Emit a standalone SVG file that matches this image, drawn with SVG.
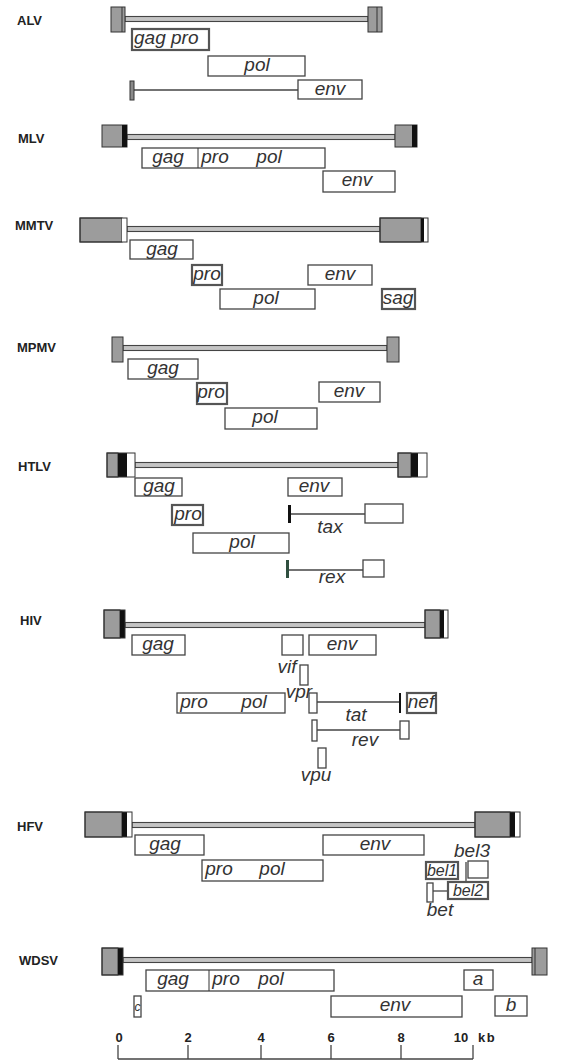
<svg xmlns="http://www.w3.org/2000/svg" width="571" height="1061" viewBox="0 0 571 1061">
<style>
.ltr{fill:#9c9c9c;stroke:#333;stroke-width:1}
.blk{fill:#111}
.wht{fill:#fff}
.ol{fill:none;stroke:#333;stroke-width:1}
.gen{fill:#fff;stroke:#444;stroke-width:1.3}
.genD{fill:#fff;stroke:#555;stroke-width:2.2}
.tk{fill:#8a8a8a;stroke:#333;stroke-width:1}
.dl{fill:#c4c4c4;stroke:#444;stroke-width:1.1}
.ln{stroke:#444;stroke-width:1.3;fill:none}
.lbl{font-family:"Liberation Sans",Arial,sans-serif;font-weight:bold;font-size:13px;fill:#222}
.g{font-family:"Liberation Sans",Arial,sans-serif;font-style:italic;font-size:19px;fill:#333}
.s{font-size:16px}
.c{text-anchor:middle}
.sc{font-family:"Liberation Sans",Arial,sans-serif;font-weight:bold;font-size:13px;fill:#222}
</style>
<rect width="571" height="1061" fill="#fff"/>

<g id="connectors">
<line class="ln" x1="134" y1="90" x2="298" y2="90"/>
<line class="ln" x1="291" y1="514" x2="365" y2="514"/>
<line class="ln" x1="289" y1="570" x2="363" y2="570"/>
<line class="ln" x1="317" y1="702" x2="400" y2="702"/>
<line class="ln" x1="317" y1="730" x2="400" y2="730"/>
<line class="ln" x1="466" y1="862" x2="466" y2="882"/>
<line class="ln" x1="433" y1="891" x2="448" y2="891"/>
</g>

<!-- ALV -->
<g id="ALV">
<text class="lbl" x="17" y="25">ALV</text>
<rect class="dl" x="125" y="16.5" width="243" height="5"/>
<rect class="ltr" x="111" y="7" width="14" height="25"/><line class="ol" x1="122" y1="7" x2="122" y2="32"/>
<rect class="ltr" x="368" y="7" width="14" height="25"/><line class="ol" x1="377" y1="7" x2="377" y2="32"/>
</g>
<g id="ALV-gagpro"><rect class="genD" x="132" y="29" width="77" height="21"/><text class="g" x="134" y="44">gag</text><text class="g" x="171" y="44">pro</text></g>
<g id="ALV-pol"><rect class="gen" x="208" y="56" width="97" height="20"/><text class="g c" x="257" y="71">pol</text></g>
<g id="ALV-env"><rect class="tk" x="130" y="81" width="4" height="19"/><rect class="gen" x="298" y="80" width="64" height="19"/><text class="g c" x="330" y="95">env</text></g>

<!-- MLV -->
<g id="MLV">
<text class="lbl" x="18" y="142.5">MLV</text>
<rect class="dl" x="127" y="134.5" width="268" height="5"/>
<rect class="ltr" x="102" y="125" width="25" height="22"/><rect class="blk" x="122" y="125" width="5" height="22"/>
<rect class="ltr" x="395" y="125" width="22" height="22"/><rect class="blk" x="412" y="125" width="5" height="22"/>
</g>
<g id="MLV-gagpropol"><rect class="gen" x="142" y="148" width="183" height="20"/><line class="ol" x1="198" y1="148" x2="198" y2="168"/><text class="g c" x="168" y="163">gag</text><text class="g c" x="215" y="163">pro</text><text class="g c" x="269" y="163">pol</text></g>
<g id="MLV-env"><rect class="gen" x="323" y="171" width="72" height="21"/><text class="g c" x="357" y="186">env</text></g>

<!-- MMTV -->
<g id="MMTV">
<text class="lbl" x="15" y="229.5">MMTV</text>
<rect class="dl" x="127" y="226.5" width="253" height="5"/>
<rect class="ltr" x="80" y="218" width="42" height="24"/><rect class="wht" x="122" y="218" width="5" height="24"/><rect class="ol" x="80" y="218" width="47" height="24"/>
<rect class="ltr" x="380" y="218" width="41" height="24"/><rect class="blk" x="421" y="218" width="3" height="24"/><rect class="wht" x="424" y="218" width="4" height="24"/><rect class="ol" x="380" y="218" width="48" height="24"/>
</g>
<g id="MMTV-gag"><rect class="gen" x="130" y="240" width="63" height="19"/><text class="g c" x="162" y="255">gag</text></g>
<g id="MMTV-pro"><rect class="genD" x="192" y="265" width="30" height="20"/><text class="g c" x="207" y="280">pro</text></g>
<g id="MMTV-env"><rect class="gen" x="308" y="265" width="64" height="20"/><text class="g c" x="340" y="280">env</text></g>
<g id="MMTV-pol"><rect class="gen" x="220" y="289" width="95" height="20"/><text class="g c" x="266" y="304">pol</text></g>
<g id="MMTV-sag"><rect class="genD" x="382" y="289" width="33" height="20"/><text class="g c" x="398" y="304">sag</text></g>

<!-- MPMV -->
<g id="MPMV">
<text class="lbl" x="17" y="351.5">MPMV</text>
<rect class="dl" x="123" y="345.5" width="264" height="5"/>
<rect class="ltr" x="112" y="337" width="11" height="25"/>
<rect class="ltr" x="387" y="337" width="12" height="25"/>
</g>
<g id="MPMV-gag"><rect class="gen" x="128" y="359" width="70" height="20"/><text class="g c" x="163" y="374">gag</text></g>
<g id="MPMV-pro"><rect class="genD" x="197" y="383" width="30" height="21"/><text class="g c" x="211" y="398">pro</text></g>
<g id="MPMV-env"><rect class="gen" x="319" y="382" width="61" height="20"/><text class="g c" x="349" y="397">env</text></g>
<g id="MPMV-pol"><rect class="gen" x="225" y="408" width="92" height="21"/><text class="g c" x="265" y="423">pol</text></g>

<!-- HTLV -->
<g id="HTLV">
<text class="lbl" x="18" y="470.5">HTLV</text>
<rect class="dl" x="135" y="462.5" width="263" height="5"/>
<rect class="ltr" x="107" y="453" width="11" height="24"/><rect class="blk" x="118" y="453" width="9" height="24"/><rect class="wht" x="127" y="453" width="8" height="24"/><rect class="ol" x="107" y="453" width="28" height="24"/>
<rect class="ltr" x="398" y="453" width="13" height="24"/><rect class="blk" x="411" y="453" width="7" height="24"/><rect class="wht" x="418" y="453" width="9" height="24"/><rect class="ol" x="398" y="453" width="29" height="24"/>
</g>
<g id="HTLV-gag"><rect class="gen" x="135" y="478" width="47" height="18"/><text class="g c" x="159" y="492">gag</text></g>
<g id="HTLV-env"><rect class="gen" x="288" y="478" width="54" height="18"/><text class="g c" x="314" y="492">env</text></g>
<g id="HTLV-pro"><rect class="genD" x="172" y="505" width="31" height="20"/><text class="g c" x="188" y="520">pro</text></g>
<g id="HTLV-tax"><rect class="blk" x="288" y="505" width="3" height="18"/><rect class="gen" x="365" y="504" width="38" height="19"/><text class="g c" x="330" y="533">tax</text></g>
<g id="HTLV-pol"><rect class="gen" x="193" y="533" width="96" height="20"/><text class="g c" x="242" y="548">pol</text></g>
<g id="HTLV-rex"><rect x="286" y="560" width="3" height="18" fill="#2f4f3f"/><rect class="gen" x="363" y="560" width="21" height="17"/><text class="g c" x="332" y="583">rex</text></g>

<!-- HIV -->
<g id="HIV">
<text class="lbl" x="20" y="624.5">HIV</text>
<rect class="dl" x="125" y="622.5" width="300" height="5"/>
<rect class="ltr" x="104" y="610" width="16" height="28"/><rect class="blk" x="120" y="610" width="5" height="28"/><rect class="ol" x="104" y="610" width="21" height="28"/>
<rect class="ltr" x="425" y="610" width="15" height="28"/><rect class="blk" x="440" y="610" width="4" height="28"/><rect class="wht" x="444" y="610" width="4" height="28"/><rect class="ol" x="425" y="610" width="23" height="28"/>
</g>
<g id="HIV-gag"><rect class="gen" x="132" y="635" width="53" height="20"/><text class="g c" x="158" y="650">gag</text></g>
<g id="HIV-vif"><rect class="gen" x="282" y="635" width="21" height="20"/><text class="g c" x="287" y="673">vif</text></g>
<g id="HIV-env"><rect class="gen" x="309" y="635" width="67" height="20"/><text class="g c" x="342" y="650">env</text></g>
<g id="HIV-vpr"><rect class="gen" x="300" y="665" width="8" height="20"/><text class="g c" x="299" y="698">vpr</text></g>
<g id="HIV-propol"><rect class="gen" x="177" y="693" width="108" height="20"/><text class="g c" x="194" y="708">pro</text><text class="g c" x="254" y="708">pol</text></g>
<g id="HIV-tat"><rect class="gen" x="309" y="693" width="8" height="20"/><rect class="blk" x="399" y="693" width="2" height="20"/><text class="g c" x="356" y="721">tat</text></g>
<g id="HIV-nef"><rect class="genD" x="407" y="693" width="29" height="20"/><text class="g c" x="421" y="708">nef</text></g>
<g id="HIV-rev"><rect class="gen" x="312" y="720" width="5" height="21"/><rect class="gen" x="400" y="721" width="9" height="18"/><text class="g c" x="365" y="746">rev</text></g>
<g id="HIV-vpu"><rect class="gen" x="318" y="748" width="8" height="20"/><text class="g c" x="316" y="781">vpu</text></g>

<!-- HFV -->
<g id="HFV">
<text class="lbl" x="17" y="830.5">HFV</text>
<rect class="dl" x="132" y="822.5" width="343" height="5"/>
<rect class="ltr" x="85" y="812" width="37" height="25"/><rect class="blk" x="122" y="812" width="5" height="25"/><rect class="wht" x="127" y="812" width="5" height="25"/><rect class="ol" x="85" y="812" width="47" height="25"/>
<rect class="ltr" x="475" y="812" width="35" height="25"/><rect class="blk" x="510" y="812" width="5" height="25"/><rect class="wht" x="515" y="812" width="5" height="25"/><rect class="ol" x="475" y="812" width="45" height="25"/>
</g>
<g id="HFV-gag"><rect class="gen" x="135" y="835" width="69" height="20"/><text class="g c" x="165" y="850">gag</text></g>
<g id="HFV-env"><rect class="gen" x="323" y="835" width="101" height="20"/><text class="g c" x="375" y="850">env</text></g>
<g id="HFV-propol"><rect class="gen" x="202" y="860" width="121" height="21"/><text class="g c" x="219" y="875">pro</text><text class="g c" x="272" y="875">pol</text></g>
<g id="HFV-bel1"><rect class="genD" x="426" y="862" width="32" height="17"/><text class="g s c" x="442" y="876">bel1</text></g>
<g id="HFV-bel3"><rect class="gen" x="468" y="861" width="20" height="17"/><text class="g c" x="472" y="857">bel3</text></g>
<g id="HFV-bet"><rect class="gen" x="427" y="883" width="6" height="19"/><text class="g c" x="440" y="916">bet</text></g>
<g id="HFV-bel2"><rect class="genD" x="448" y="882" width="40" height="17"/><text class="g s c" x="468" y="896">bel2</text></g>

<!-- WDSV -->
<g id="WDSV">
<text class="lbl" x="19" y="964.5">WDSV</text>
<rect class="dl" x="123" y="957.5" width="409" height="5"/>
<rect class="ltr" x="102" y="948" width="16" height="27"/><rect class="blk" x="118" y="948" width="5" height="27"/><rect class="ol" x="102" y="948" width="21" height="27"/>
<rect class="ltr" x="532" y="948" width="15" height="27"/><line class="ol" x1="535" y1="948" x2="535" y2="975"/>
</g>
<g id="WDSV-gagpropol"><rect class="gen" x="146" y="970" width="188" height="21"/><line class="ol" x1="209" y1="970" x2="209" y2="991"/><text class="g c" x="173" y="985">gag</text><text class="g c" x="226" y="985">pro</text><text class="g c" x="271" y="985">pol</text></g>
<g id="WDSV-a"><rect class="gen" x="464" y="970" width="29" height="20"/><text class="g c" x="478" y="985">a</text></g>
<g id="WDSV-c"><rect class="gen" x="134" y="996" width="7" height="21"/><text class="g c" x="137.5" y="1011" style="font-size:12px">c</text></g>
<g id="WDSV-env"><rect class="gen" x="331" y="996" width="131" height="21"/><text class="g c" x="395" y="1011">env</text></g>
<g id="WDSV-b"><rect class="gen" x="495" y="996" width="32" height="20"/><text class="g c" x="511" y="1011">b</text></g>

<!-- scale -->
<g id="scale">
<line class="ln" x1="118" y1="1059" x2="473" y2="1059" style="stroke-width:1.6"/>
<line class="ln" x1="118" y1="1045" x2="118" y2="1059"/>
<line class="ln" x1="188" y1="1045" x2="188" y2="1059"/>
<line class="ln" x1="261" y1="1045" x2="261" y2="1059"/>
<line class="ln" x1="331" y1="1045" x2="331" y2="1059"/>
<line class="ln" x1="401" y1="1045" x2="401" y2="1059"/>
<line class="ln" x1="473" y1="1045" x2="473" y2="1059"/>
<text class="sc c" x="119" y="1042">0</text>
<text class="sc c" x="188" y="1042">2</text>
<text class="sc c" x="261" y="1042">4</text>
<text class="sc c" x="331" y="1042">6</text>
<text class="sc c" x="401" y="1042">8</text>
<text class="sc c" x="461" y="1042">10</text>
<text class="sc" x="478" y="1042" style="letter-spacing:1.5px">kb</text>
</g>
</svg>
